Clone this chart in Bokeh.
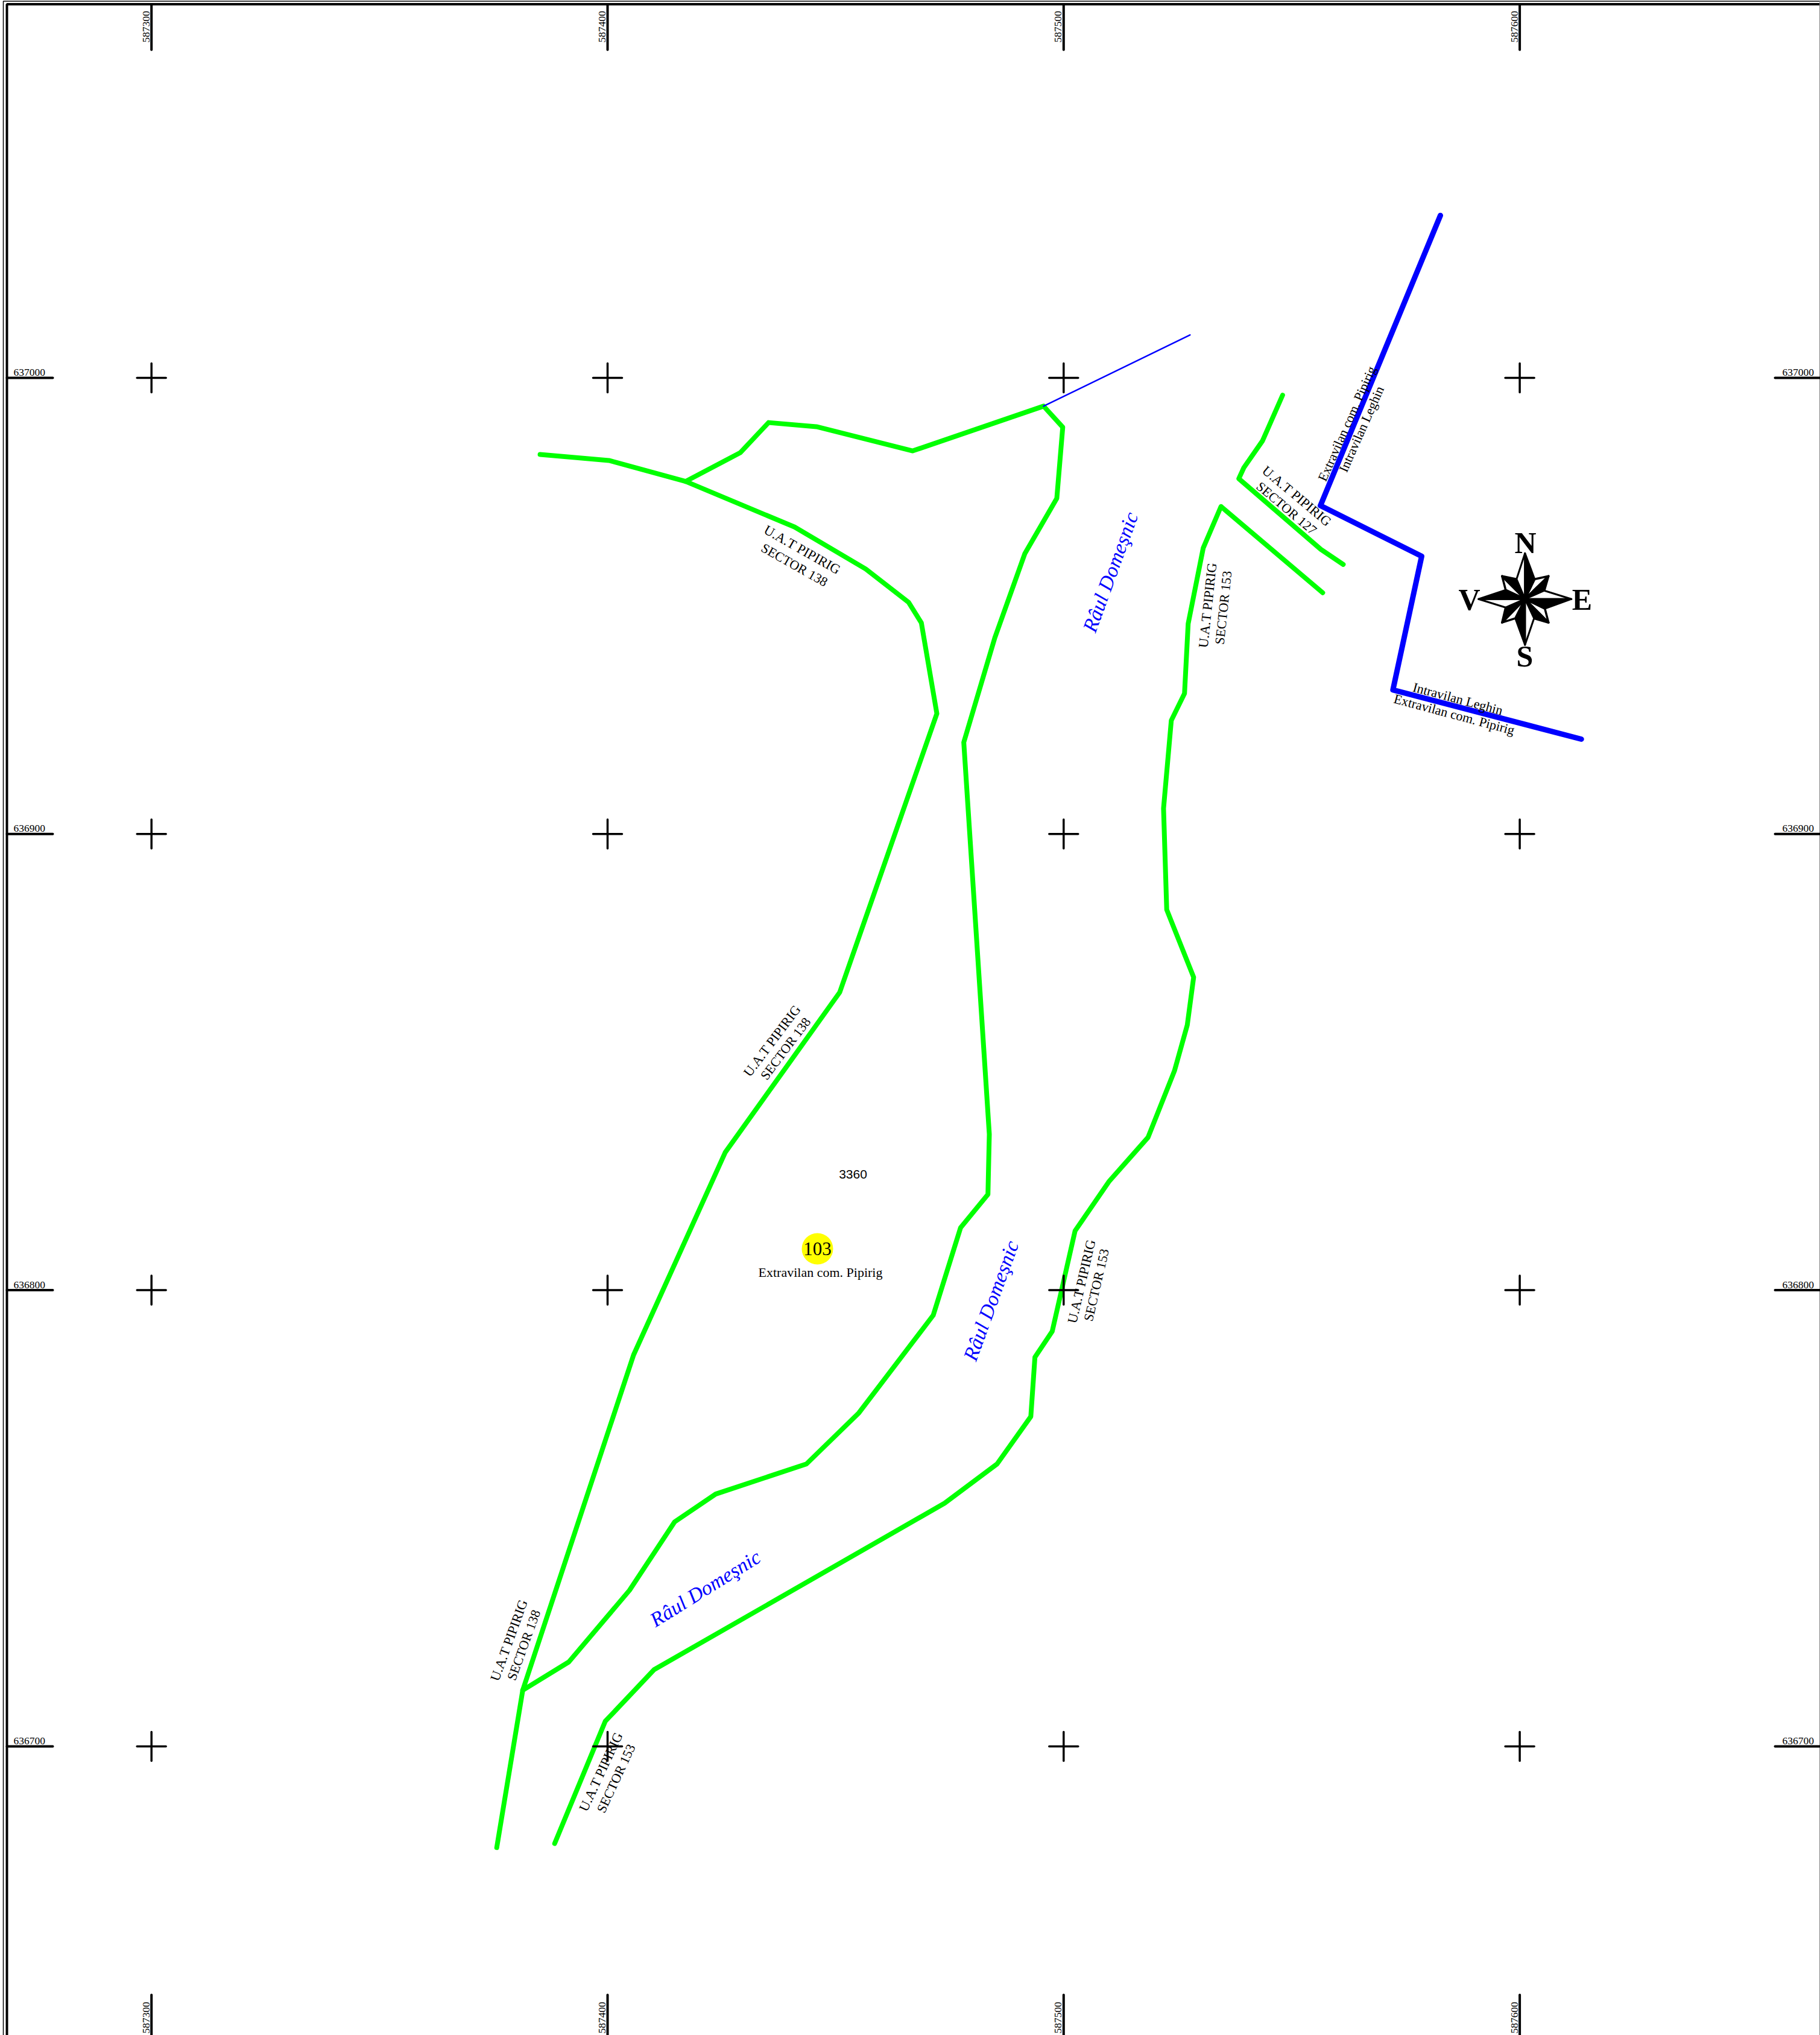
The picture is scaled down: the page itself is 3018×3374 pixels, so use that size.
from bokeh.plotting import figure
from bokeh.models import Range1d
from bokeh.core.properties import value
from bokeh.embed import file_html
from bokeh.resources import INLINE

# Stereo-70 grid ticks
E_TICKS = [587300, 587400, 587500, 587600]
N_TICKS = [637000, 636900, 636800, 636700]

# Boundary lines, easting / northing
WEST_E = [587385.2, 587400.3, 587417.1, 587441.0, 587456.6, 587466.0, 587468.8, 587472.2,
          587450.9, 587425.8, 587405.7, 587381.4, 587375.7]
WEST_N = [636983.2, 636981.9, 636977.3, 636967.3, 636958.1, 636950.8, 636946.3, 636926.4,
          636865.3, 636830.2, 636785.8, 636712.3, 636677.8]

MID_E = [587417.1, 587429.1, 587435.3, 587445.8, 587466.9, 587495.6, 587499.8, 587498.5,
         587491.5, 587484.9, 587478.1, 587483.7, 587483.4, 587477.4, 587471.4, 587455.1,
         587443.6, 587423.7, 587414.7, 587404.8, 587391.5, 587381.4]
MID_N = [636977.3, 636983.6, 636990.2, 636989.3, 636984.0, 636993.8, 636989.2, 636973.6,
         636961.5, 636943.0, 636920.1, 636834.2, 636821.0, 636813.7, 636794.5, 636773.1,
         636761.9, 636755.3, 636749.2, 636734.2, 636718.5, 636712.3]

EAST_E = [587388.4, 587399.5, 587410.2, 587473.9, 587485.4, 587492.8, 587493.7, 587497.5,
          587502.5, 587510.0, 587518.5, 587524.3, 587527.1, 587528.5, 587522.6, 587521.9,
          587523.6, 587526.5, 587527.3, 587530.6, 587534.5, 587556.8]
EAST_N = [636678.7, 636705.5, 636716.8, 636753.3, 636761.9, 636772.3, 636785.3, 636791.0,
          636813.0, 636823.9, 636833.5, 636848.1, 636858.1, 636868.6, 636883.4, 636905.6,
          636924.9, 636930.8, 636946.1, 636962.7, 636971.8, 636952.9]

SHORT_E = [587548.0, 587543.6, 587539.5, 587538.4, 587556.4, 587561.3]
SHORT_N = [636996.2, 636986.2, 636980.3, 636977.9, 636962.4, 636959.1]

LIMIT_E = [587582.6, 587556.3, 587578.5, 587572.2, 587613.5]
LIMIT_N = [637035.6, 636972.0, 636960.9, 636931.6, 636920.8]

THIN_E = [587495.6, 587527.7]
THIN_N = [636993.8, 637009.4]

# Text: label, x, y, angle
SERIF_LABELS = [
    ("U.A.T PIPIRIG", 1330, 911, -29.5), ("SECTOR 138", 1317, 936, -29.5),
    ("U.A.T PIPIRIG", 1280, 1725, 53), ("SECTOR 138", 1302, 1738, 53),
    ("U.A.T PIPIRIG", 843.5, 2719, 70), ("SECTOR 138", 868, 2727, 70),
    ("U.A.T PIPIRIG", 996, 2937, 65), ("SECTOR 153", 1021, 2948, 65),
    ("U.A.T PIPIRIG", 2002, 1003, 84), ("SECTOR 153", 2028, 1007, 84),
    ("U.A.T PIPIRIG", 2150, 822, -40), ("SECTOR 127", 2133, 842, -40),
    ("Extravilan com. Pipirig", 2233, 702, 66), ("Intravilan Leghin", 2257, 711, 66),
    ("Intravilan Leghin", 2417, 1158, -15), ("Extravilan com. Pipirig", 2411, 1184, -15),
    ("U.A.T PIPIRIG", 1793, 2124, 77), ("SECTOR 153", 1817.5, 2130, 77),
    ("Extravilan com. Pipirig", 1360, 2109, 0),
]
RIVER_LABELS = [("Râul Domeşnic", 1841, 948, 70), ("Râul Domeşnic", 1643, 2156, 70),
                ("Râul Domeşnic", 1169, 2633, 32)]
COMPASS_LETTERS = [("N", 2529, 899), ("V", 2436, 993), ("E", 2623, 993), ("S", 2528, 1087)]

W, H = 3018, 3374
SCALE = 7.563
X0 = 587300 - 250.7 / SCALE
Y0 = 637000 + 626 / SCALE


def X(px):
    return X0 + px / SCALE


def Y(py):
    return Y0 - py / SCALE


p = figure(width=W, height=H, output_backend="svg", toolbar_location=None,
           x_range=Range1d(X(0), X(W)), y_range=Range1d(Y(H), Y(0)),
           x_axis_location=None, y_axis_location=None, min_border=0)
p.grid.visible = False
p.outline_line_color = None
p.background_fill_color = "white"

GREEN = "#00ff00"
BLUE = "#0000ff"
ROUND = dict(line_cap="round", line_join="round")

# frame
p.line([X(5), X(5), X(W + 5)], [Y(H + 5), Y(1.5), Y(1.5)], line_color="black", line_width=1.5)
p.line([X(11), X(11), X(W + 5)], [Y(H + 5), Y(6.5), Y(6.5)], line_color="black", line_width=4)
p.line([X(3017.3), X(3017.3)], [Y(0), Y(H)], line_color="#808080", line_width=1.5)

# boundaries
for xs, ys in [(WEST_E, WEST_N), (MID_E, MID_N), (EAST_E, EAST_N), (SHORT_E, SHORT_N)]:
    p.line(xs, ys, line_color=GREEN, line_width=8, **ROUND)
p.line(LIMIT_E, LIMIT_N, line_color=BLUE, line_width=9, **ROUND)
p.line(THIN_E, THIN_N, line_color=BLUE, line_width=2.5, **ROUND)

SERIF = value("Liberation Serif")


def put(text, px, py, size, angle=0, color="black", font=SERIF, style="normal",
        align="center", baseline="middle"):
    p.text([X(px)], [Y(py)], text=[text], text_font=font, text_font_size=f"{size}px",
           text_font_style=style, text_color=color, angle=angle, angle_units="deg",
           text_align=align, text_baseline=baseline)


for t, px, py, a in SERIF_LABELS:
    put(t, px, py, 22.5 if t.startswith("U.A.T") else 22, a)
for t, px, py, a in RIVER_LABELS:
    put(t, px, py, 34, a, color=BLUE, style="italic")

# parcel marker
p.scatter([X(1355)], [Y(2070)], size=52, marker="circle", fill_color="#ffff00", line_color=None)
put("103", 1355, 2070, 31)
put("3360", 1414, 1946, 21, font=value("Liberation Sans"))

# compass rose, offsets from its centre
CX, CY = 2528.3, 992.7
WHITE_MAIN = [[(0, -76), (-14, -33), (0, 0)], [(77, 0), (32, -14), (0, 0)],
              [(0, 76), (15, 32), (0, 0)], [(-77, 0), (-32, 14), (0, 0)]]
BLACK_MAIN = [[(0, -76), (16, -33), (0, 0)], [(77, 0), (33, 16), (0, 0)],
              [(0, 76), (-16, 32), (0, 0)], [(-77, 0), (-32, -15), (0, 0)]]
WHITE_DIAG = [[(39, -38), (16, -33), (0, 0)], [(39, 39), (33, 16), (0, 0)],
              [(-38, 39), (-16, 32), (0, 0)], [(-38, -38), (-32, -15), (0, 0)]]
BLACK_DIAG = [[(39, -38), (32, -14), (0, 0)], [(39, 39), (15, 32), (0, 0)],
              [(-38, 39), (-32, 14), (0, 0)], [(-38, -38), (-14, -33), (0, 0)]]


def poly(tri):
    return [X(CX + a) for a, _ in tri], [Y(CY + b) for _, b in tri]


for tri in WHITE_DIAG + BLACK_DIAG:
    xs, ys = poly(tri)
    filled = tri in BLACK_DIAG
    p.patch(xs, ys, fill_color="black" if filled else "white", line_color="black",
            line_width=3.5, line_join="round")
for tri in WHITE_MAIN + BLACK_MAIN:
    xs, ys = poly(tri)
    filled = tri in BLACK_MAIN
    p.patch(xs, ys, fill_color="black" if filled else "white", line_color="black",
            line_width=3, line_join="round")
for t, px, py in COMPASS_LETTERS:
    put(t, px, py, 50, style="bold")

# grid labels, ticks and crosses
TICK_TOP = Y(82)
TICK_BOTTOM = Y(3307)
TICK_LEFT = X(87)
TICK_RIGHT = X(2943)
ARM = 24 / SCALE
for e in E_TICKS:
    p.line([e, e], [Y(6.5), TICK_TOP], line_color="black", line_width=4, **ROUND)
    p.line([e, e], [TICK_BOTTOM, Y(H + 5)], line_color="black", line_width=4, **ROUND)
    for py in (70, 3371):
        p.text([e], [Y(py)], text=[str(e)], text_font=SERIF, text_font_size="17.5px",
               text_color="black", angle=90, angle_units="deg", text_align="left",
               text_baseline="middle", x_offset=-9)
for n in N_TICKS:
    p.line([X(11), TICK_LEFT], [n, n], line_color="black", line_width=4, **ROUND)
    p.line([TICK_RIGHT, X(W + 5)], [n, n], line_color="black", line_width=4, **ROUND)
    for px in (22, 2955):
        p.text([X(px)], [n], text=[str(n)], text_font=SERIF, text_font_size="17.5px",
               text_color="black", text_align="left", text_baseline="middle", y_offset=-9)
for e in E_TICKS:
    for n in N_TICKS:
        p.line([e - ARM, e + ARM], [n, n], line_color="black", line_width=3.5, **ROUND)
        p.line([e, e], [n - ARM, n + ARM], line_color="black", line_width=3.5, **ROUND)

open("out.html", "w").write(file_html(p, INLINE))
